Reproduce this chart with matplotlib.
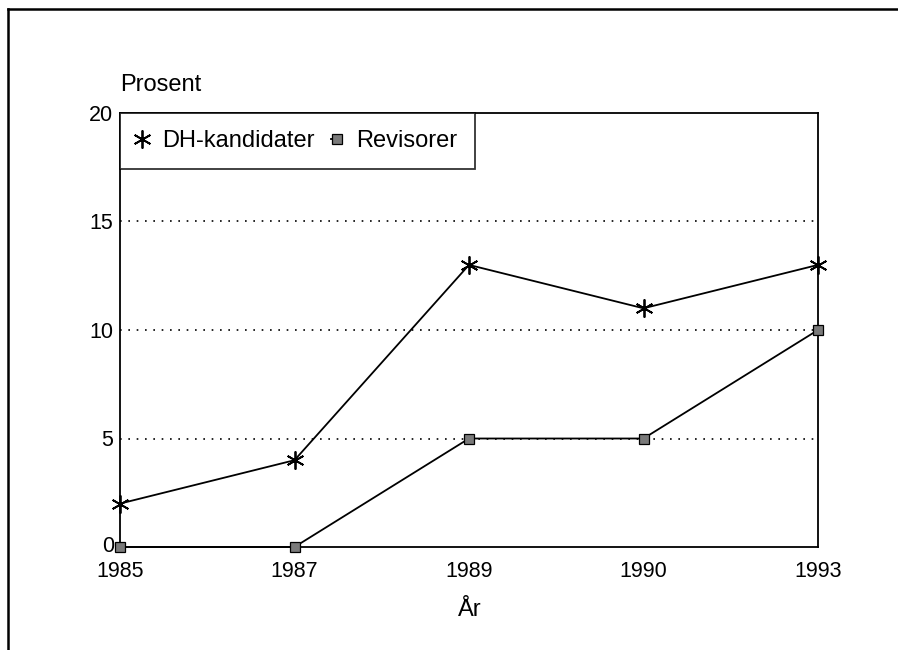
import matplotlib.pyplot as plt
from matplotlib.lines import Line2D
from matplotlib.transforms import offset_copy

years = ["1985", "1987", "1989", "1990", "1993"]
dh_kandidater = [2, 4, 13, 11, 13]
revisorer = [0, 0, 5, 5, 10]

plt.rcParams["font.family"] = ["Liberation Sans", "DejaVu Sans"]
plt.rcParams["font.size"] = 15.5

fig = plt.figure(figsize=(8.98, 6.5), dpi=100)
ax = fig.add_axes([120 / 898, 103 / 650, 698 / 898, 434 / 650])

x = list(range(len(years)))
star = dict(marker=(6, 2, 0), markersize=13, markeredgewidth=1.3, color="black")
square = dict(marker="s", markersize=7.5, markerfacecolor="#7a7a7a",
              markeredgecolor="black", markeredgewidth=0.9, color="black")
ax.plot(x, dh_kandidater, lw=1.3, clip_on=False, zorder=3, **star)
ax.plot(x, revisorer, lw=1.3, clip_on=False, zorder=3, **square)

ax.set_xlim(0, len(years) - 1)
ax.set_ylim(0, 20)
ax.set_xticks(x)
ax.set_xticklabels(years)
ax.set_yticks([0, 5, 10, 15, 20])
ax.tick_params(axis="x", length=0, pad=10)
ax.tick_params(axis="y", length=0, pad=5)
zero = ax.get_yticklabels()[0]
zero.set_transform(offset_copy(zero.get_transform(), fig=fig, x=1, y=2, units="points"))

for yv in [5, 10, 15]:
    ax.axhline(yv, color="black", lw=1.2, ls=(0, (1, 4)), zorder=1)

for s in ax.spines.values():
    s.set_linewidth(1.3)
    s.set_color("black")

handles = [Line2D([], [], ls="none", **star), Line2D([], [], lw=1.3, **square)]
leg = ax.legend(handles, ["DH-kandidater", "Revisorer"], loc="upper left",
                bbox_to_anchor=(0, 1), borderaxespad=0, frameon=True, fancybox=False,
                ncol=2, handlelength=0.45, handletextpad=0.62,
                columnspacing=0.7, borderpad=0.72, fontsize=17)
leg.get_frame().set_edgecolor("black")
leg.get_frame().set_linewidth(1.3)

fig.text(120 / 898, 1 - 85 / 650, "Prosent", ha="left", va="center", fontsize=17)
fig.text(470 / 898, 1 - 610 / 650, "År", ha="center", va="center", fontsize=17)

fig.add_artist(Line2D([8 / 898, 1], [1 - 9 / 650, 1 - 9 / 650], color="black", lw=1.8))
fig.add_artist(Line2D([8 / 898, 8 / 898], [1 - 9 / 650, 0], color="black", lw=1.8))

fig.savefig("out.png", dpi=100)
